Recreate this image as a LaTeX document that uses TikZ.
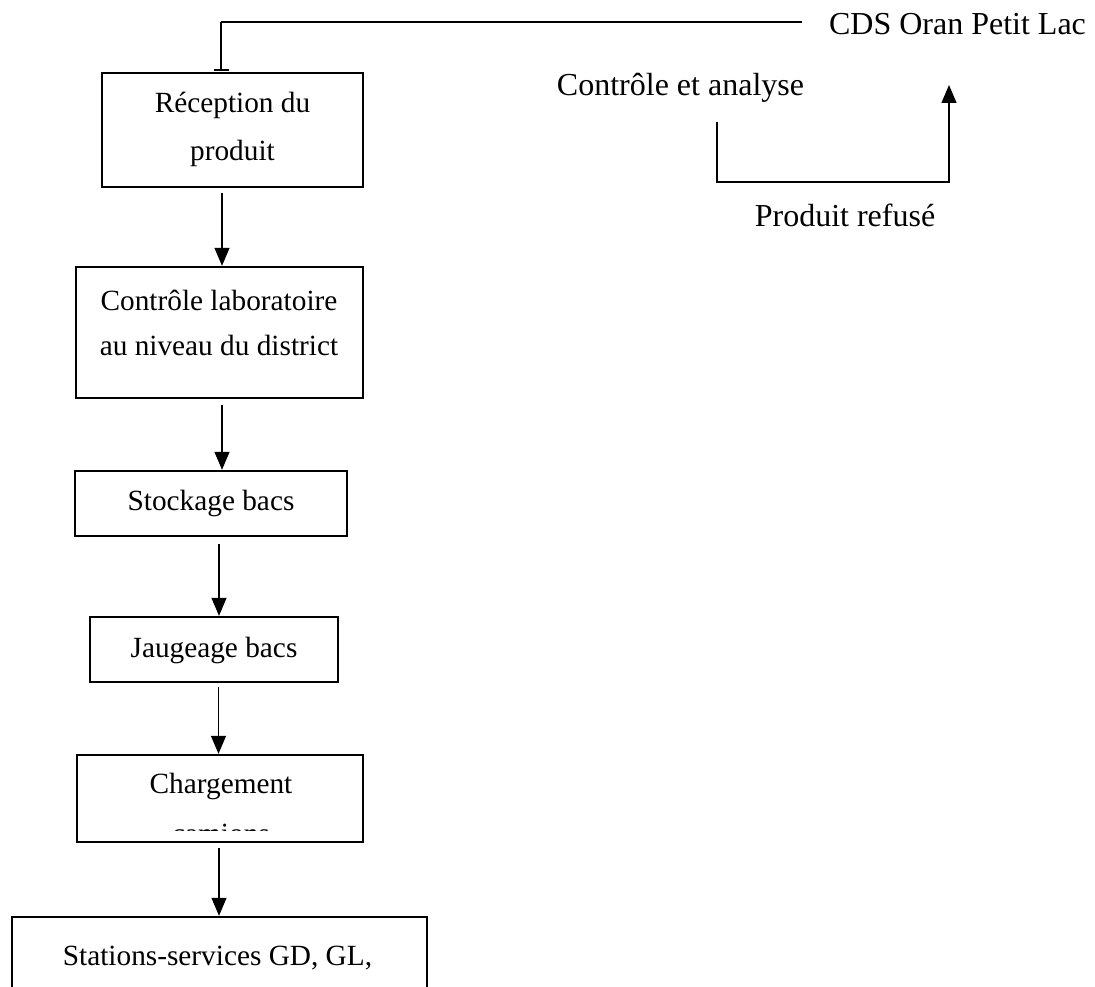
\documentclass[tikz,border=0pt]{standalone}
\usepackage{fontspec}
\setmainfont{Liberation Serif}
\usetikzlibrary{arrows.meta}
\tikzset{
  box/.style={draw, line width=2.4pt, inner sep=0pt, rectangle},
  txt/.style={font=\fontsize{29.3}{35}\selectfont, inner sep=0pt, anchor=base},
  bigtxt/.style={font=\fontsize{32}{38}\selectfont, inner sep=0pt, anchor=base},
  conn/.style={line width=1.3pt},
  arr/.style={line width=1.3pt, -{Triangle[length=18pt,width=15pt]}},
}
\begin{document}
\begin{tikzpicture}[x=1pt,y=-1pt]
\useasboundingbox (0,0) rectangle (1095,987);
\clip (0,0) rectangle (1095,987);
\fill[white] (0,0) rectangle (1095,987);

% boxes
\node[box, minimum width=261pt, minimum height=114pt] (recep) at (232.5,130) {};
\node[box, minimum width=287pt, minimum height=131pt] (labo) at (219.5,332.5) {};
\node[box, minimum width=272pt, minimum height=65pt] (stock) at (211,503.5) {};
\node[box, minimum width=248pt, minimum height=65pt] (jauge) at (214,649.5) {};
\node[box, minimum width=286pt, minimum height=87pt] (charg) at (220,798.5) {};
\node[box, minimum width=415pt, minimum height=116pt] (stations) at (219.5,975) {};

% box texts
\node[txt] (recep1) at (232.5,113) {Réception du};
\node[txt] (recep2) at (232.5,161) {produit};
\node[txt] (labo1) at (219,310) {Contrôle laboratoire};
\node[txt] (labo2) at (219,355) {au niveau du district};
\node[txt] (stock1) at (211,510) {Stockage bacs};
\node[txt] (jauge1) at (214,657) {Jaugeage bacs};
\node[txt] (charg1) at (221,793) {Chargement};
\begin{scope}
  \clip (150,822) rectangle (300,830);
  \node[txt] (charg2) at (221,843.5) {camions};
\end{scope}
\node[txt] (stations1) at (217.5,965) {Stations-services GD, GL,};

% side texts
\node[bigtxt] (cds) at (957.5,35) {CDS Oran Petit Lac};
\node[bigtxt] (ctrl) at (680.5,96) {Contrôle et analyse};
\node[bigtxt] (refus) at (845,227) {Produit refusé};

% top connector
\coordinate (t1) at (802,22);
\draw[conn] (t1) -- (221,22);
\draw[line width=2pt, -{Bar[width=15pt,line width=2pt]}] (221,22) -- ([xshift=-11.5pt,yshift=1pt]recep.north);

% loop
\coordinate (loopS) at (717,122);
\coordinate (loopE) at (949,85);
\draw[arr] (loopS) -- (717,182) -| (loopE);

% down arrows
\draw[arr] ([xshift=-10.5pt,yshift=-5pt]recep.south) -- ([xshift=-10.5pt]recep.south |- labo.north);
\draw[arr] ([xshift=2.5pt,yshift=-6pt]labo.south) -- ([xshift=2.5pt]labo.south |- stock.north);
\draw[arr] ([xshift=8pt,yshift=-7pt]stock.south) -- ([xshift=8pt]stock.south |- jauge.north);
\draw[arr] ([xshift=4.5pt,yshift=-4pt]jauge.south) -- ([xshift=4.5pt]jauge.south |- charg.north);
\draw[arr] ([xshift=-1pt,yshift=-5pt]charg.south) -- ([xshift=-1pt]charg.south |- stations.north);
\end{tikzpicture}
\end{document}
